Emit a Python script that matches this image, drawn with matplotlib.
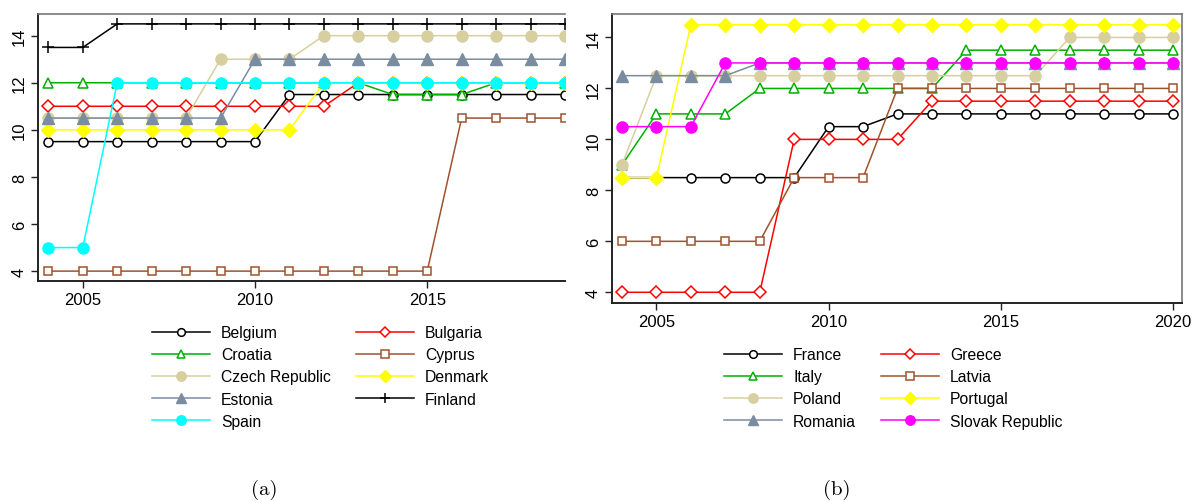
import matplotlib
matplotlib.use("Agg")
import matplotlib.pyplot as plt
from matplotlib.lines import Line2D

plt.rcParams['font.family'] = ['Liberation Sans', 'DejaVu Sans']

# ---------------- data ----------------
years_a = list(range(2004, 2020))
belgium  = [9.5]*7 + [11.5]*9
bulgaria = [11]*9 + [12]*7
croatia  = [12]*10 + [11.5]*3 + [12]*3
cyprus   = [4]*12 + [10.5]*4
czech    = [10.5]*5 + [13]*3 + [14]*8
denmark  = [10]*8 + [12]*8
estonia  = [10.5]*6 + [13]*10
finland  = [13.5]*2 + [14.5]*14
spain    = [5]*2 + [12]*14

years_b = list(range(2004, 2021))
france   = [8.5]*6 + [10.5]*2 + [11]*9
greece   = [4]*5 + [10]*4 + [11.5]*8
italy    = [9] + [11]*3 + [12]*6 + [13.5]*7
latvia   = [6]*5 + [8.5]*3 + [12]*9
poland   = [9] + [12.5]*12 + [14]*4
portugal = [8.5]*2 + [14.5]*15
romania  = [12.5]*4 + [13]*13
slovak   = [10.5]*3 + [13]*14

names_a = ["Belgium", "Bulgaria", "Croatia", "Cyprus", "Czech Republic",
           "Denmark", "Estonia", "Finland", "Spain"]
series_a = [belgium, bulgaria, croatia, cyprus, czech, denmark, estonia, finland, spain]
names_b = ["France", "Greece", "Italy", "Latvia", "Poland", "Portugal",
           "Romania", "Slovak Republic"]
series_b = [france, greece, italy, latvia, poland, portugal, romania, slovak]

xticks_a = [2005, 2010, 2015]
xticks_b = [2005, 2010, 2015, 2020]
yticks = [4, 6, 8, 10, 12, 14]

# ---------------- styles ----------------
BLACK = "#000000"; RED = "#FF0000"; GREEN = "#00B000"; BROWN = "#A0522D"
TAN = "#D8CFA0"; YELLOW = "#FFFF00"; SLATE = "#7A8DA0"; CYAN = "#00FFFF"; MAG = "#FF00FF"

def style(kind, color):
    if kind == "ocircle":
        return dict(marker="o", mfc="white", mec=color, ms=6.5, mew=1.1)
    if kind == "odiamond":
        return dict(marker="D", mfc="white", mec=color, ms=5.8, mew=1.1)
    if kind == "otri":
        return dict(marker="^", mfc="white", mec=color, ms=7, mew=1.1)
    if kind == "osquare":
        return dict(marker="s", mfc="white", mec=color, ms=6.3, mew=1.1)
    if kind == "fcircle":
        return dict(marker="o", mfc=color, mec=color, ms=8)
    if kind == "fdiamond":
        return dict(marker="D", mfc=color, mec=color, ms=6.8)
    if kind == "ftri":
        return dict(marker="^", mfc=color, mec=color, ms=9)
    if kind == "plus":
        return dict(marker="+", mfc=color, mec=color, ms=8, mew=1.1)

styles_a = [("ocircle", BLACK), ("odiamond", RED), ("otri", GREEN), ("osquare", BROWN),
            ("fcircle", TAN), ("fdiamond", YELLOW), ("ftri", SLATE), ("plus", BLACK),
            ("fcircle", CYAN)]
styles_b = [("ocircle", BLACK), ("odiamond", RED), ("otri", GREEN), ("osquare", BROWN),
            ("fcircle", TAN), ("fdiamond", YELLOW), ("ftri", SLATE), ("fcircle", MAG)]

W, H = 1192, 502
fig = plt.figure(figsize=(W/100, H/100), dpi=100)

def fx(px): return px / W
def fy(py): return 1 - py / H

ax_a = fig.add_axes([fx(38), fy(282), fx(565-38), (282-15)/H])
ax_b = fig.add_axes([fx(612), fy(304), fx(1182-612), (304-15)/H])

FS = 11.3
TFS = 12

def draw(ax, years, series, names, styles, xticks, xlim, right_spine):
    handles = []
    for s, n, (k, c) in zip(series, names, styles):
        h, = ax.plot(years, s, color=c, lw=1.1, label=n, clip_on=True, **style(k, c))
        handles.append(h)
    ax.set_xlim(*xlim)
    ax.set_ylim(3.58, 14.92)
    ax.set_xticks(xticks)
    ax.set_yticks(yticks)
    ax.tick_params(axis="both", labelsize=TFS, length=5, width=1.0, colors="#222222",
                   labelcolor="black", pad=3)
    for lab in ax.get_yticklabels():
        lab.set_rotation(90)
        lab.set_va("center")
    ax.spines["left"].set_color("#222222")
    ax.spines["bottom"].set_color("#222222")
    ax.spines["left"].set_linewidth(1.4)
    ax.spines["bottom"].set_linewidth(1.4)
    ax.spines["top"].set_color("#777777")
    ax.spines["top"].set_linewidth(1.2)
    if right_spine:
        ax.spines["right"].set_color("#777777")
        ax.spines["right"].set_linewidth(1.2)
    else:
        ax.spines["right"].set_visible(False)
    return handles

h_a = draw(ax_a, years_a, series_a, names_a, styles_a, xticks_a, (2003.7, 2019.0), False)
h_b = draw(ax_b, years_b, series_b, names_b, styles_b, xticks_b, (2003.71, 2020.26), True)

def legend_handles(handles):
    out = []
    for h in handles:
        out.append(Line2D([], [], color=h.get_color(), lw=1.1, marker=h.get_marker(),
                          mfc=h.get_markerfacecolor(), mec=h.get_markeredgecolor(),
                          ms=h.get_markersize() * 0.85, mew=h.get_markeredgewidth()))
    return out

# row-wise ordering (two columns)
lh_a = legend_handles(h_a)
order_a = [0, 2, 4, 6, 8, 1, 3, 5, 7]
fig.legend([lh_a[i] for i in order_a], [names_a[i] for i in order_a],
           loc="upper left", bbox_to_anchor=(fx(152), fy(326)), ncol=2,
           frameon=False, fontsize=FS, handlelength=3.7, handletextpad=0.7,
           columnspacing=1.6, labelspacing=0.46, borderpad=0, borderaxespad=0)

lh_b = legend_handles(h_b)
order_b = [0, 2, 4, 6, 1, 3, 5, 7]
fig.legend([lh_b[i] for i in order_b], [names_b[i] for i in order_b],
           loc="upper left", bbox_to_anchor=(fx(724), fy(348)), ncol=2,
           frameon=False, fontsize=FS, handlelength=3.7, handletextpad=0.7,
           columnspacing=1.6, labelspacing=0.46, borderpad=0, borderaxespad=0)

fig.text(fx(264), fy(490), "(a)", fontsize=15, family="cmr10", ha="center", va="center")
fig.text(fx(837), fy(490), "(b)", fontsize=15, family="cmr10", ha="center", va="center")

fig.savefig("out.png", dpi=100)
